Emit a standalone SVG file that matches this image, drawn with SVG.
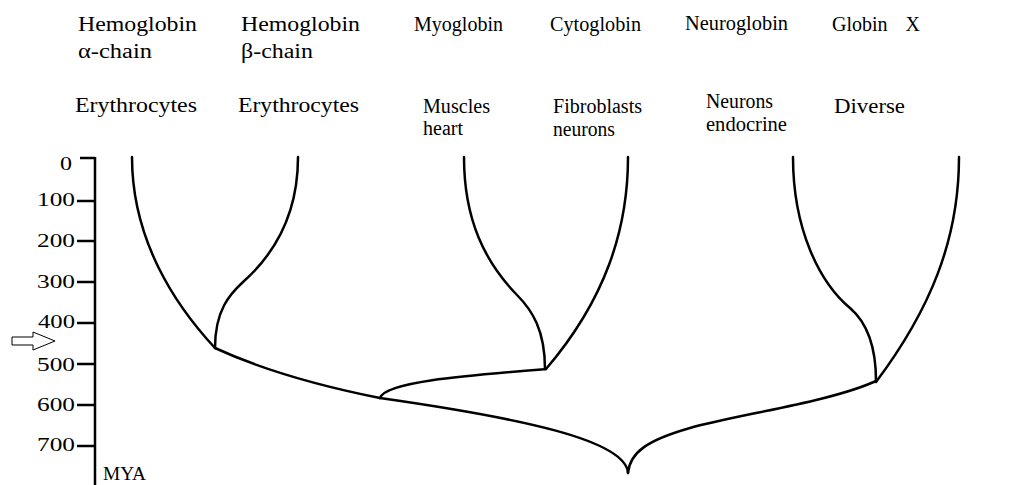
<svg xmlns="http://www.w3.org/2000/svg" width="1016" height="485" viewBox="0 0 1016 485">
<style>
text{font-size:20px;fill:#000}
.ax{font-size:19px}
.br{fill:none;stroke:#000;stroke-width:2.5;stroke-linecap:round;stroke-linejoin:round}
.tk{stroke:#000;stroke-width:2.5}
</style>
<rect width="1016" height="485" fill="#fff"/>
<g font-family="'Liberation Serif', 'Times New Roman', Times, 'DejaVu Serif', serif" lengthAdjust="spacingAndGlyphs">
<g id="axis">
<line class="tk" x1="95" y1="157" x2="95" y2="485"/>
<line class="tk" x1="80" y1="158" x2="95" y2="158"/>
<line class="tk" x1="77" y1="201" x2="95" y2="201"/>
<line class="tk" x1="77" y1="241" x2="95" y2="241"/>
<line class="tk" x1="77" y1="282" x2="95" y2="282"/>
<line class="tk" x1="77" y1="323" x2="95" y2="323"/>
<line class="tk" x1="77" y1="364" x2="95" y2="364"/>
<line class="tk" x1="77" y1="405" x2="95" y2="405"/>
<line class="tk" x1="77" y1="446" x2="95" y2="446"/>
<text class="ax" x="60" y="170" textLength="12" lengthAdjust="spacingAndGlyphs">0</text>
<text class="ax" x="37" y="206" textLength="38" lengthAdjust="spacingAndGlyphs">100</text>
<text class="ax" x="37" y="247" textLength="38" lengthAdjust="spacingAndGlyphs">200</text>
<text class="ax" x="37" y="288" textLength="38" lengthAdjust="spacingAndGlyphs">300</text>
<text class="ax" x="38" y="328" textLength="37" lengthAdjust="spacingAndGlyphs">400</text>
<text class="ax" x="37" y="371" textLength="38" lengthAdjust="spacingAndGlyphs">500</text>
<text class="ax" x="37" y="411" textLength="38" lengthAdjust="spacingAndGlyphs">600</text>
<text class="ax" x="37" y="451" textLength="38" lengthAdjust="spacingAndGlyphs">700</text>
<text class="ax" x="103" y="480" textLength="43" lengthAdjust="spacingAndGlyphs">MYA</text>
<polygon points="12,337 33,337 33,332 55,341 33,350 33,345 12,345" fill="#fff" stroke="#000" stroke-width="1"/>
</g>
<g id="hb-alpha">
<text x="78" y="31" textLength="119" lengthAdjust="spacingAndGlyphs">Hemoglobin</text>
<text x="78" y="58" textLength="74" lengthAdjust="spacingAndGlyphs">α-chain</text>
<text x="75" y="112" textLength="122" lengthAdjust="spacingAndGlyphs">Erythrocytes</text>
</g>
<g id="hb-beta">
<text x="241" y="31" textLength="119" lengthAdjust="spacingAndGlyphs">Hemoglobin</text>
<text x="241" y="58" textLength="72" lengthAdjust="spacingAndGlyphs">β-chain</text>
<text x="238" y="112" textLength="121" lengthAdjust="spacingAndGlyphs">Erythrocytes</text>
</g>
<g id="myoglobin">
<text x="414" y="31" textLength="89" lengthAdjust="spacingAndGlyphs">Myoglobin</text>
<text x="423" y="113" textLength="67" lengthAdjust="spacingAndGlyphs">Muscles</text>
<text x="423" y="135" textLength="40" lengthAdjust="spacingAndGlyphs">heart</text>
</g>
<g id="cytoglobin">
<text x="550" y="31" textLength="91" lengthAdjust="spacingAndGlyphs">Cytoglobin</text>
<text x="553" y="113" textLength="89" lengthAdjust="spacingAndGlyphs">Fibroblasts</text>
<text x="553" y="136" textLength="62" lengthAdjust="spacingAndGlyphs">neurons</text>
</g>
<g id="neuroglobin">
<text x="685" y="30" textLength="103" lengthAdjust="spacingAndGlyphs">Neuroglobin</text>
<text x="706" y="108" textLength="67" lengthAdjust="spacingAndGlyphs">Neurons</text>
<text x="706" y="131" textLength="81" lengthAdjust="spacingAndGlyphs">endocrine</text>
</g>
<g id="globin-x">
<text x="832" y="31" word-spacing="13" textLength="88" lengthAdjust="spacingAndGlyphs">Globin X</text>
<text x="834" y="113" textLength="71" lengthAdjust="spacingAndGlyphs">Diverse</text>
</g>
</g>
<g id="connectors">
<path class="br" d="M132,157 C132,240 175,305 215,348"/>
<path class="br" d="M298,157 C298,220 270,258 243,282 C230,294 215,310 215,348"/>
<path class="br" d="M464,157 C464,220 485,262 517,295 C532,310 545,330 545,369"/>
<path class="br" d="M628,157 C628,230 605,300 546,369"/>
<path class="br" d="M793,157 C793,230 820,283 850,308 C864,320 876,340 876,381"/>
<path class="br" d="M959,157 C959,240 930,310 876,382"/>
<path class="br" d="M215,348 Q280,378 380,398"/>
<path class="br" d="M546,369 C460,376 385,382 380,398"/>
<path class="br" d="M380,398 C520,418 626,440 628,473"/>
<path class="br" d="M628,473 C630,452 648,440 690,428 C740,414 830,402 876,381"/>
</g>
</svg>
